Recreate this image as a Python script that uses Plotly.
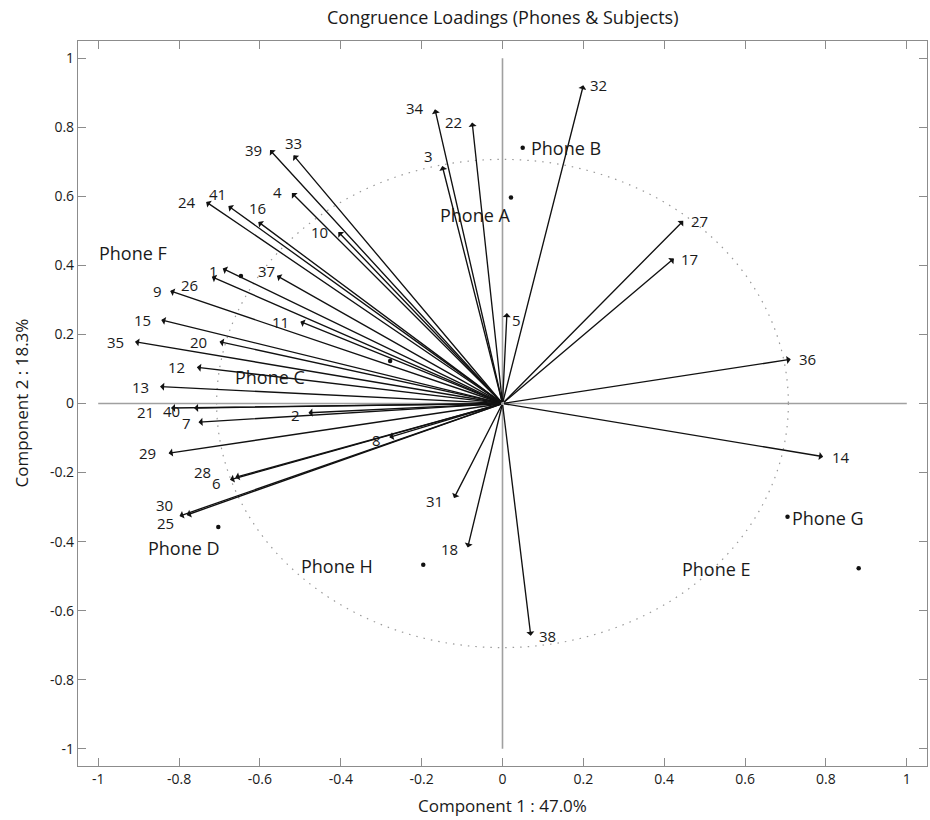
import plotly.graph_objects as go

# Subject loadings on the first two components
subject_ids = ["1", "2", "3", "4", "5", "6", "7", "8", "9", "10",
               "11", "12", "13", "14", "15", "16", "17", "18", "20", "21",
               "22", "24", "25", "26", "27", "28", "29", "30", "31", "32",
               "33", "34", "35", "36", "37", "38", "39", "40", "41"]
comp1 = [-0.692, -0.480, -0.149, -0.521, 0.011, -0.674, -0.752, -0.280, -0.822, -0.406,
         -0.500, -0.756, -0.847, 0.793, -0.844, -0.604, 0.424, -0.086, -0.700, -0.820,
         -0.075, -0.733, -0.781, -0.719, 0.447, -0.661, -0.826, -0.799, -0.120, 0.200,
         -0.517, -0.167, -0.909, 0.713, -0.558, 0.070, -0.575, -0.763, -0.678]
comp2 = [0.391, -0.027, 0.688, 0.610, 0.262, -0.221, -0.054, -0.098, 0.326, 0.497,
         0.237, 0.105, 0.049, -0.154, 0.242, 0.526, 0.420, -0.417, 0.179, -0.013,
         0.814, 0.584, -0.323, 0.367, 0.529, -0.214, -0.144, -0.326, -0.274, 0.922,
         0.719, 0.852, 0.179, 0.128, 0.370, -0.673, 0.734, -0.013, 0.572]

# Label offsets (pixels) of each subject number from its arrow tip
label_dx = [-9, -13, -14, -14, 10, -14, -12, -13, -13, -19,
            -20, -20, -20, 18, -19, -1, 16, -18, -21, -25,
            -19, -19, -21, -22, 16, -33, -21, -15, -19, 15,
            0, -20, -20, 17, -10, 17, -17, -23, -11]
label_dy = [-2, -2, 10, 1, -7, -3, -1, -3, 0, 0,
            0, 0, 0, 0, 0, 14, 0, -2, 0, -4,
            0, 0, -8, -8, 0, 5, 0, 11, -3, 0,
            12, 1, 0, 0, 5, 0, 0, -3, 12]

# Phone loadings
phone_names = ["Phone A", "Phone B", "Phone C", "Phone D",
               "Phone E", "Phone F", "Phone G", "Phone H"]
phone_c1 = [0.021, 0.050, -0.278, -0.703, 0.881, -0.647, 0.705, -0.196]
phone_c2 = [0.597, 0.741, 0.123, -0.358, -0.477, 0.369, -0.328, -0.467]
# Where each phone name is written (data coordinates of the text centre)
phone_label_x = [-0.066, 0.158, -0.575, -0.789, 0.530, -0.913, 0.805, -0.410]
phone_label_y = [0.545, 0.740, 0.076, -0.419, -0.480, 0.436, -0.332, -0.470]

tick_vals = [-1, -0.8, -0.6, -0.4, -0.2, 0, 0.2, 0.4, 0.6, 0.8, 1]
tick_text = ["-1", "-0.8", "-0.6", "-0.4", "-0.2", "0", "0.2", "0.4", "0.6", "0.8", "1"]

circle_r = 0.7071

FONT = "Open Sans"
GREY = "#8c8c8c"
INK = "#1a1a1a"

fig = go.Figure()

# phone positions
fig.add_trace(go.Scatter(
    x=phone_c1, y=phone_c2, mode="markers",
    marker=dict(size=4.5, color="#111111"),
    hoverinfo="text", text=phone_names, showlegend=False,
))

annotations = []
for sid, cx, cy, dx, dy in zip(subject_ids, comp1, comp2, label_dx, label_dy):
    annotations.append(dict(
        x=cx, y=cy, ax=0, ay=0, xref="x", yref="y", axref="x", ayref="y",
        text="", showarrow=True, arrowhead=1, arrowsize=1.0, arrowwidth=1.35,
        arrowcolor="#111111", standoff=0, startstandoff=0,
    ))
    annotations.append(dict(
        x=cx, y=cy, xref="x", yref="y", text=sid, showarrow=False,
        xshift=dx, yshift=dy, xanchor="center", yanchor="middle",
        font=dict(family=FONT, size=15, color=INK),
    ))

for name, lx, ly in zip(phone_names, phone_label_x, phone_label_y):
    annotations.append(dict(
        x=lx, y=ly, xref="x", yref="y", text=name, showarrow=False,
        xanchor="center", yanchor="middle",
        font=dict(family=FONT, size=18, color=INK),
    ))

# title and axis titles
annotations.append(dict(
    x=0.5, y=1, xref="paper", yref="paper", yshift=24, showarrow=False,
    text="Congruence Loadings (Phones &amp; Subjects)", xanchor="center", yanchor="middle",
    font=dict(family=FONT, size=18, color=INK),
))
annotations.append(dict(
    x=0.5, y=0, xref="paper", yref="paper", yshift=-39, showarrow=False,
    text="Component 1 : 47.0%", xanchor="center", yanchor="middle",
    font=dict(family=FONT, size=17, color=INK),
))
annotations.append(dict(
    x=0, y=0.5, xref="paper", yref="paper", xshift=-57, showarrow=False,
    text="Component 2 : 18.3%", textangle=-90, xanchor="center", yanchor="middle",
    font=dict(family=FONT, size=17, color=INK),
))

shapes = [
    dict(type="circle", xref="x", yref="y", x0=-circle_r, x1=circle_r,
         y0=-circle_r, y1=circle_r, line=dict(color="#9a9a9a", width=1.2, dash="1.5px,6px"),
         layer="below"),
    dict(type="line", xref="x", yref="y", x0=-1, x1=1, y0=0, y1=0,
         line=dict(color="#a0a0a0", width=1.6), layer="below"),
    dict(type="line", xref="x", yref="y", x0=0, x1=0, y0=-1, y1=1,
         line=dict(color="#a0a0a0", width=1.6), layer="below"),
]

axis_common = dict(
    tickvals=tick_vals, ticktext=tick_text, ticks="inside", ticklen=8,
    tickcolor=GREY, tickwidth=1.2, showline=True, linecolor=GREY, linewidth=1.2,
    mirror="ticks", showgrid=False, zeroline=False,
    tickfont=dict(family=FONT, size=14, color=INK),
    range=[-1.05, 1.05],
)

fig.update_layout(
    width=930, height=820,
    margin=dict(l=78, r=3, t=41, b=54),
    paper_bgcolor="white", plot_bgcolor="white",
    xaxis=axis_common,
    yaxis=axis_common,
    annotations=annotations,
    shapes=shapes,
    showlegend=False,
)

fig.write_html("out.html")
